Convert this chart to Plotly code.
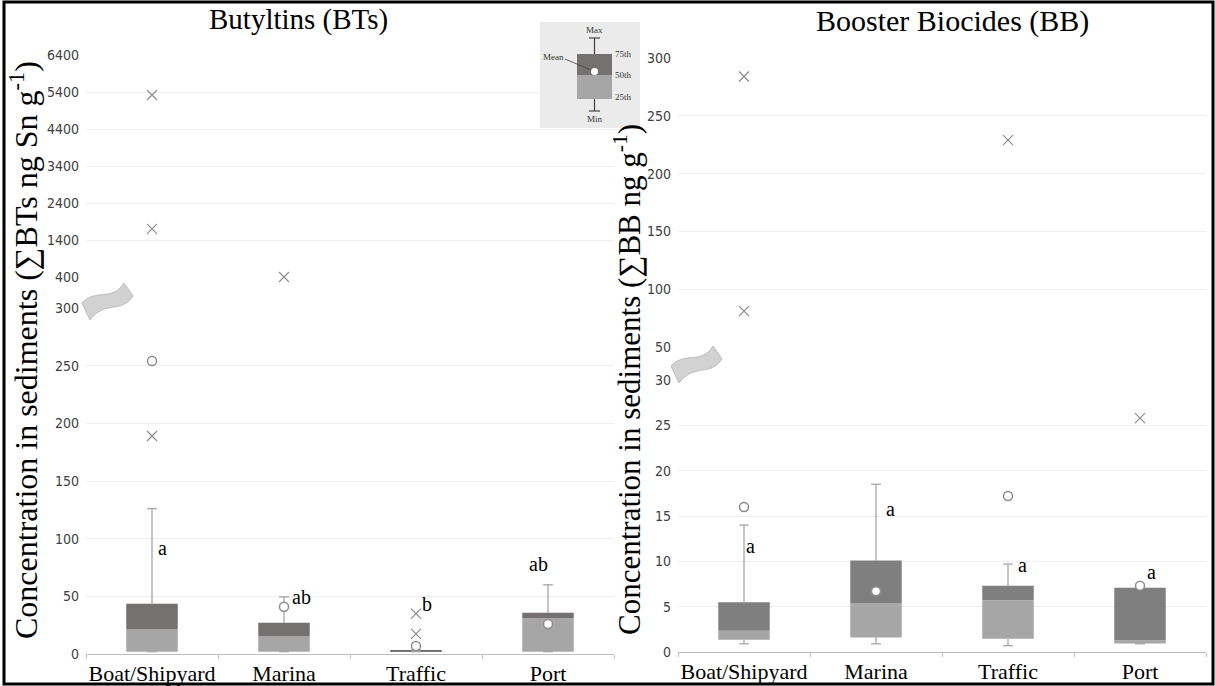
import plotly.graph_objects as go

# ---------------- data ----------------
categories = ["Boat/Shipyard", "Marina", "Traffic", "Port"]

# Butyltins (BTs)
bt_min = [2, 2, 2, 2]
bt_q1 = [2, 2, 2, 2]
bt_median = [21.7, 15.7, 2.5, 31]
bt_q3 = [43.5, 27, 3.5, 35.7]
bt_max = [126, 49.5, 3.5, 60]
bt_mean = [254, 41, 7, 26]
bt_outlier_cat = ["Boat/Shipyard", "Boat/Shipyard", "Boat/Shipyard", "Marina", "Traffic", "Traffic"]
bt_outlier_val = [189, 1700, 5320, 400, 17.5, 35]
bt_letters = ["a", "ab", "b", "ab"]
bt_letter_y = [92, 49, 43, 78]
bt_lower_ticks = [0, 50, 100, 150, 200, 250, 300]
bt_upper_ticks = [400, 1400, 2400, 3400, 4400, 5400, 6400]

# Booster Biocides (BB)
bb_min = [0.9, 0.9, 0.7, 0.9]
bb_q1 = [1.35, 1.6, 1.45, 0.95]
bb_median = [2.35, 5.4, 5.7, 1.3]
bb_q3 = [5.5, 10.1, 7.3, 7.1]
bb_max = [14, 18.5, 9.7, 7.1]
bb_mean = [16, 6.7, 17.2, 7.3]
bb_outlier_cat = ["Boat/Shipyard", "Boat/Shipyard", "Traffic", "Port"]
bb_outlier_val = [81, 284, 229, 25.8]
bb_letters = ["a", "a", "a", "a"]
bb_letter_y = [11.7, 15.8, 9.6, 8.8]
bb_lower_ticks = [0, 5, 10, 15, 20, 25, 30]
bb_upper_ticks = [50, 100, 150, 200, 250, 300]

# ---------------- layout helpers ----------------
W, H = 1215, 686


def fx(px):
    return px / W


def fy(py):
    return 1 - py / H


SERIF = "Liberation Serif, Times New Roman, serif"
NARROW = "Liberation Sans Narrow, DejaVu Sans Condensed, sans-serif"
LIGHT = "#a6a6a6"
DARK_L = "#767171"
DARK_R = "#7f7f7f"
WHISK = "#a6a6a6"
PT = "#8c8c8c"

fig = go.Figure()


def add_panel(xa, xup, ylo, yhi, q1, med, q3, mn, mx, mean, ocat, oval, brk, dark):
    # stacked box segments
    fig.add_trace(go.Bar(x=categories, y=[m - a for a, m in zip(q1, med)], base=q1,
                         width=0.39, marker=dict(color=LIGHT, line=dict(width=0)),
                         xaxis=xa, yaxis=ylo))
    fig.add_trace(go.Bar(x=categories, y=[b - m for m, b in zip(med, q3)], base=med,
                         width=0.39, marker=dict(color=dark, line=dict(width=0)),
                         xaxis=xa, yaxis=ylo))
    # whiskers
    wx, wy = [], []
    for c, a, lo, b, hi in zip(categories, q1, mn, q3, mx):
        wx += [c, c, None, c, c, None]
        wy += [b, hi, None, a, lo, None]
    fig.add_trace(go.Scatter(x=wx, y=wy, mode="lines", line=dict(color=WHISK, width=1.3),
                             xaxis=xa, yaxis=ylo, cliponaxis=False))
    fig.add_trace(go.Scatter(x=categories * 2, y=mx + mn, mode="markers",
                             marker=dict(symbol="line-ew", size=7,
                                         line=dict(color=WHISK, width=1.3)),
                             xaxis=xa, yaxis=ylo, cliponaxis=False))
    # means
    fig.add_trace(go.Scatter(x=categories, y=mean, mode="markers",
                             marker=dict(symbol="circle", size=9, color="white",
                                         line=dict(color=PT, width=1.5)),
                             xaxis=xa, yaxis=ylo, cliponaxis=False))
    # outliers split between lower and upper segments
    lo_c = [c for c, v in zip(ocat, oval) if v <= brk]
    lo_v = [v for v in oval if v <= brk]
    hi_c = [c for c, v in zip(ocat, oval) if v > brk]
    hi_v = [v for v in oval if v > brk]
    mk = dict(symbol="x-thin", size=10, line=dict(color=PT, width=1.2))
    fig.add_trace(go.Scatter(x=lo_c, y=lo_v, mode="markers", marker=mk,
                             xaxis=xa, yaxis=ylo, cliponaxis=False))
    fig.add_trace(go.Scatter(x=hi_c, y=hi_v, mode="markers", marker=mk,
                             xaxis=xup, yaxis=yhi, cliponaxis=False))


add_panel("x", "x2", "y", "y2", bt_q1, bt_median, bt_q3, bt_min, bt_max, bt_mean,
          bt_outlier_cat, bt_outlier_val, bt_lower_ticks[-1], DARK_L)
add_panel("x3", "x4", "y3", "y4", bb_q1, bb_median, bb_q3, bb_min, bb_max, bb_mean,
          bb_outlier_cat, bb_outlier_val, bb_lower_ticks[-1], DARK_R)

xl = dict(type="category", categoryarray=categories, categoryorder="array",
          range=[-0.5, 3.5], showgrid=False, zeroline=False, automargin=False)
x_low = dict(xl, showline=True, linecolor="#bfbfbf", linewidth=1, ticks="outside",
             tickson="boundaries", ticklen=4, tickcolor="#bfbfbf", tickangle=0,
             tickfont=dict(family=SERIF, size=22, color="black"))
x_up = dict(xl, showline=False, ticks="", showticklabels=False)
yl = dict(showgrid=True, gridcolor="#efefef", gridwidth=1, zeroline=False, showline=False,
          ticks="", tickfont=dict(family=NARROW, size=14, color="#404040"),
          ticklabelstandoff=6, automargin=False)

fig.update_layout(
    width=W, height=H, template="none", showlegend=False, barmode="overlay",
    margin=dict(l=0, r=0, t=0, b=0), plot_bgcolor="white", paper_bgcolor="white",
    xaxis=dict(x_low, domain=[fx(86), fx(614)], anchor="y"),
    xaxis2=dict(x_up, domain=[fx(86), fx(614)], anchor="y2"),
    xaxis3=dict(x_low, domain=[fx(678), fx(1206)], anchor="y3"),
    xaxis4=dict(x_up, domain=[fx(678), fx(1206)], anchor="y4"),
    yaxis=dict(yl, domain=[fy(654), fy(308)], anchor="x", range=[0, 300],
               tickvals=bt_lower_ticks),
    yaxis2=dict(yl, domain=[fy(277), fy(55)], anchor="x2", range=[400, 6400],
                tickvals=bt_upper_ticks),
    yaxis3=dict(yl, domain=[fy(652), fy(380)], anchor="x3", range=[0, 30],
                tickvals=bb_lower_ticks),
    yaxis4=dict(yl, domain=[fy(347), fy(58)], anchor="x4", range=[50, 300],
                tickvals=bb_upper_ticks),
)

# significance letters
bt_off = [0.08, 0.13, 0.08, -0.07]
bb_off = [0.05, 0.11, 0.11, 0.09]
for i, (t, yv) in enumerate(zip(bt_letters, bt_letter_y)):
    fig.add_annotation(x=i + bt_off[i], y=yv, xref="x", yref="y", text=t, showarrow=False,
                       font=dict(family=SERIF, size=20, color="black"))
for i, (t, yv) in enumerate(zip(bb_letters, bb_letter_y)):
    fig.add_annotation(x=i + bb_off[i], y=yv, xref="x3", yref="y3", text=t, showarrow=False,
                       font=dict(family=SERIF, size=20, color="black"))


def label(text, x, y, size, angle=0, xanchor="center", color="black"):
    fig.add_annotation(x=fx(x), y=fy(y), xref="paper", yref="paper", text=text,
                       showarrow=False, textangle=angle, xanchor=xanchor, yanchor="middle",
                       font=dict(family=SERIF, size=size, color=color))


# titles
label("Butyltins (BTs)", 298, 19, 29)
label("Booster Biocides (BB)", 952, 21, 30)
label("Concentration in sediments (∑BTs ng Sn g<sup>-1</sup>)", 24, 350, 32, angle=-90)
label("Concentration in sediments (∑BB ng g<sup>-1</sup>)", 627, 380, 31, angle=-90)


# ---------------- decorations ----------------
def P(x, y):
    return f"{fx(x):.5f},{fy(y):.5f}"


def squiggle(x0, y0):
    # tilted S-shaped axis-break marker, anchored at its lower-left corner
    pts = (f"M {P(x0, y0 - 17)} C {P(x0 + 14, y0 - 32)} {P(x0 + 30, y0 - 18)} {P(x0 + 42, y0 - 37)} "
           f"L {P(x0 + 51, y0 - 24)} C {P(x0 + 39, y0 - 6)} {P(x0 + 23, y0 - 20)} {P(x0 + 8, y0)} Z")
    fig.add_shape(type="path", path=pts, xref="paper", yref="paper",
                  fillcolor="#d2d2d2", line=dict(color="#bdbdbd", width=1))


squiggle(82, 320)
squiggle(671, 383)

# legend inset (key to the box symbols)
fig.add_shape(type="rect", xref="paper", yref="paper", x0=fx(540), x1=fx(640), y0=fy(128), y1=fy(22),
              fillcolor="#ebebeb", line=dict(width=0))
fig.add_shape(type="rect", xref="paper", yref="paper", x0=fx(577), x1=fx(612), y0=fy(75), y1=fy(54),
              fillcolor=DARK_L, line=dict(width=0))
fig.add_shape(type="rect", xref="paper", yref="paper", x0=fx(577), x1=fx(612), y0=fy(99), y1=fy(75),
              fillcolor=LIGHT, line=dict(width=0))
for (xa_, ya_, xb_, yb_) in [(594.5, 38, 594.5, 54), (594.5, 99, 594.5, 111),
                             (589, 38, 600, 38), (589, 111, 600, 111)]:
    fig.add_shape(type="line", xref="paper", yref="paper", x0=fx(xa_), y0=fy(ya_), x1=fx(xb_), y1=fy(yb_),
                  line=dict(color="#404040", width=1.2))
fig.add_shape(type="line", xref="paper", yref="paper", x0=fx(565), y0=fy(59), x1=fx(591), y1=fy(70),
              line=dict(color="#404040", width=0.8))
fig.add_shape(type="circle", xref="paper", yref="paper", x0=fx(591), x1=fx(598), y0=fy(75), y1=fy(68),
              fillcolor="white", line=dict(width=0))
for txt, x, y, anc in [("Max", 594.5, 30, "center"), ("Min", 594.5, 119, "center"),
                       ("75th", 613, 54, "left"), ("50th", 613, 75, "left"),
                       ("25th", 613, 97, "left"), ("Mean", 566, 57, "right")]:
    label(txt, x, y, 9, xanchor=anc, color="#333333")

# outer frame
fig.add_shape(type="rect", xref="paper", yref="paper", x0=fx(4), x1=fx(1213), y0=fy(684), y1=fy(2),
              line=dict(color="black", width=3))

fig.write_html("out.html")
